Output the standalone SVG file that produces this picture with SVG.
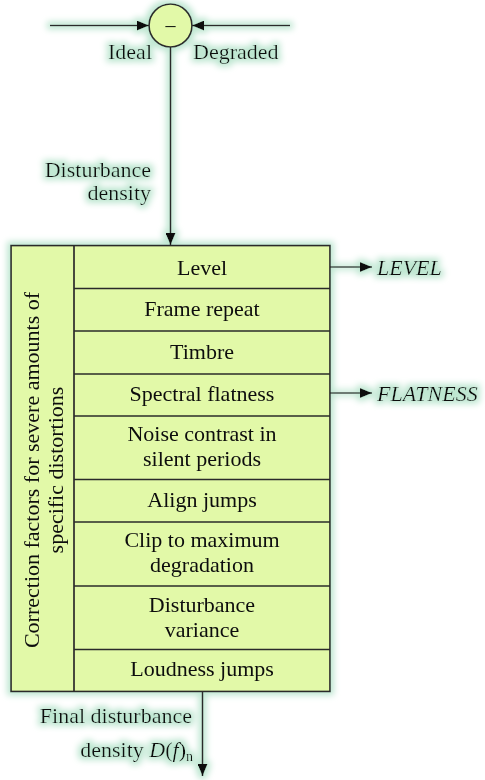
<svg xmlns="http://www.w3.org/2000/svg" width="485" height="780" viewBox="0 0 485 780">
<style>
text{font-family:"Liberation Serif","Times New Roman",serif;font-size:22px;fill:#0d0d0d}
.c{text-anchor:middle}
.r{text-anchor:end}
.it{font-style:italic}
.box{fill:#e2f9a8;stroke:#2b2b2b;stroke-width:1.7}
.ln{stroke:#2b2b2b;stroke-width:1.7;fill:none}
</style>
<defs>
<filter id="glow" x="-20%" y="-20%" width="140%" height="140%">
<feMorphology in="SourceAlpha" operator="dilate" radius="3" result="d"/>
<feGaussianBlur in="d" stdDeviation="3" result="b"/>
<feFlood flood-color="#bde6d0"/>
<feComposite in2="b" operator="in" result="g"/>
<feMerge><feMergeNode in="g"/><feMergeNode in="SourceGraphic"/></feMerge>
</filter>
<marker id="ah" viewBox="0 0 12 10" refX="12" refY="5" markerWidth="12" markerHeight="10" markerUnits="userSpaceOnUse" orient="auto">
<path d="M0,0 L12,5 L0,10 Z" fill="#111"/>
</marker>
</defs>
<g filter="url(#glow)">
<g id="connectors">
<line class="ln" x1="50" y1="25.5" x2="149" y2="25.5" marker-end="url(#ah)"/>
<line class="ln" x1="290" y1="25.5" x2="192" y2="25.5" marker-end="url(#ah)"/>
<line class="ln" x1="170.5" y1="47" x2="170.5" y2="245" marker-end="url(#ah)"/>
<line class="ln" x1="330" y1="267" x2="372" y2="267" marker-end="url(#ah)"/>
<line class="ln" x1="330" y1="393" x2="372" y2="393" marker-end="url(#ah)"/>
<line class="ln" x1="202.5" y1="691" x2="202.5" y2="776" marker-end="url(#ah)"/>
</g>
<g id="sub">
<circle class="box" cx="170.5" cy="25.5" r="21.5"/>
<text class="c" x="170.5" y="32" style="font-size:20px">–</text>
</g>
<g id="labels-top">
<text class="r" x="152" y="59">Ideal</text>
<text x="193" y="59">Degraded</text>
<text class="r" x="151" y="177">Disturbance</text>
<text class="r" x="151" y="200">density</text>
</g>
<g id="block">
<rect class="box" x="11" y="245.5" width="319" height="446"/>
<line class="ln" x1="74" y1="245.5" x2="74" y2="691.5"/>
<line class="ln" x1="74" y1="288.5" x2="330" y2="288.5"/>
<line class="ln" x1="74" y1="331" x2="330" y2="331"/>
<line class="ln" x1="74" y1="374" x2="330" y2="374"/>
<line class="ln" x1="74" y1="416" x2="330" y2="416"/>
<line class="ln" x1="74" y1="479.5" x2="330" y2="479.5"/>
<line class="ln" x1="74" y1="522" x2="330" y2="522"/>
<line class="ln" x1="74" y1="586" x2="330" y2="586"/>
<line class="ln" x1="74" y1="649.5" x2="330" y2="649.5"/>
<g transform="translate(42.5,470) rotate(-90)">
<text class="c" x="0" y="-4">Correction factors for severe amounts of</text>
<text class="c" x="0" y="20">specific distortions</text>
</g>
</g>
<g id="n-level"><text class="c" x="202" y="275">Level</text></g>
<g id="n-frame"><text class="c" x="202" y="316">Frame repeat</text></g>
<g id="n-timbre"><text class="c" x="202" y="359">Timbre</text></g>
<g id="n-flat"><text class="c" x="202" y="401">Spectral flatness</text></g>
<g id="n-noise"><text class="c" x="202" y="441">Noise contrast in</text><text class="c" x="202" y="466">silent periods</text></g>
<g id="n-align"><text class="c" x="202" y="507">Align jumps</text></g>
<g id="n-clip"><text class="c" x="202" y="547">Clip to maximum</text><text class="c" x="202" y="572">degradation</text></g>
<g id="n-var"><text class="c" x="202" y="612">Disturbance</text><text class="c" x="202" y="637">variance</text></g>
<g id="n-loud"><text class="c" x="202" y="676">Loudness jumps</text></g>
<g id="out-labels">
<text class="it" x="377" y="275">LEVEL</text>
<text class="it" x="377" y="401">FLATNESS</text>
<text class="r" x="192" y="723">Final disturbance</text>
<text class="r" x="193" y="757">density <tspan class="it">D</tspan>(<tspan class="it">f</tspan>)<tspan style="font-size:14px" dy="4">n</tspan></text>
</g>
</g>
</svg>
